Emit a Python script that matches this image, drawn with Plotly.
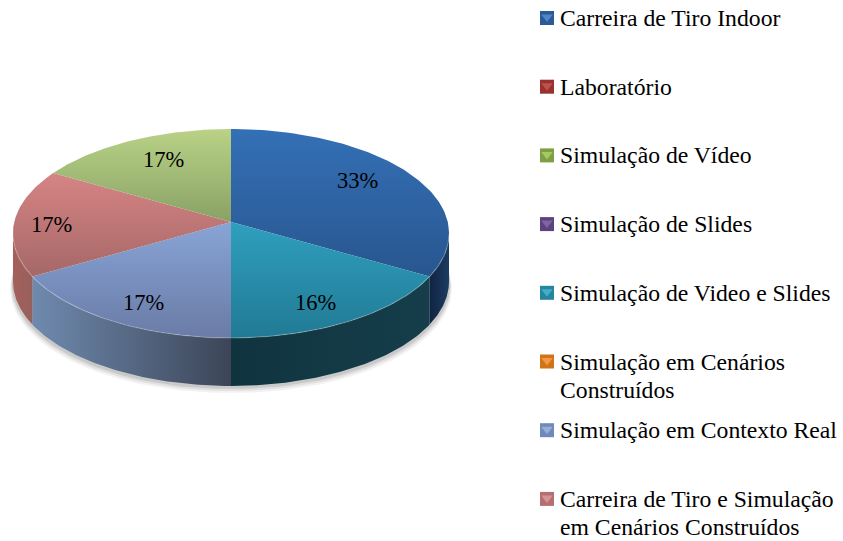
import numpy as np
import plotly.graph_objects as go

LEGEND_NAMES = ["Carreira de Tiro Indoor", "Laboratório", "Simulação de Vídeo", "Simulação de Slides",
                "Simulação de Video e Slides", "Simulação em Cenários<br>Construídos",
                "Simulação em Contexto Real", "Carreira de Tiro e Simulação<br>em Cenários Construídos"]
SHARES = [33.33, 0, 16.67, 0, 16.67, 0, 16.67, 16.66]
SLICE_LABELS = ["33%", "", "17%", "", "16%", "", "17%", "17%"]
SLICE_ORDER = [0, 4, 6, 7, 2]

LEGEND_DARK = ["#2c5a96", "#98322f", "#7f9f45", "#5c4380", "#26859e", "#cf7518", "#7089b8", "#b56f6e"]
LEGEND_LIGHT = ["#4f86c6", "#c0504d", "#a6c862", "#8064a2", "#45adc9", "#f79646", "#94add9", "#d69391"]
TOP_COLORS = {0: ("#3470b6", "#28568f"), 4: ("#2f9fbe", "#217a94"), 6: ("#88a4d6", "#6a7ba6"),
              7: ("#d68484", "#a56867"), 2: ("#b9d286", "#89a266")}
WALL_COLORS = {0: ("#102442", "#1c3c62"), 4: ("#10343f", "#153e4a"), 6: ("#6f8aaf", "#3c4557"),
               7: ("#a55f5c", "#97605c")}
LABEL_R = {0: .70, 4: .78, 6: .78, 7: .83, 2: .70}
LABEL_SHIFT = {0: (0, 7), 4: (-7, -5), 6: (4, -5), 7: (0, -2), 2: (4, 4)}

CX, CY, RX, RY, K, DEPTH = 231, 222, 216.7, 103.2, 0.11, 48


def proj(theta, r=1.0):
    u, v = r * np.sin(theta), -r * np.cos(theta)
    w = 1 - K * v
    return CX + RX * u / w, CY + RY * v / w


fig = go.Figure()

# soft shadow under the pie
ts = np.linspace(np.arcsin(K) + np.pi / 2 - 0.35, 3 * np.pi / 2 - np.arcsin(K) + 0.35, 120)
for off, alpha in [(7, .05), (5, .07), (3, .10)]:
    sx, sy = proj(ts)
    fig.add_trace(go.Scatter(
        x=np.r_[sx + off * np.sign(sx - CX) * .4, sx[::-1]],
        y=np.r_[sy + DEPTH + off, sy[::-1]], mode="lines", fill="toself",
        line=dict(width=0), fillcolor=f"rgba(0,0,0,{alpha})", hoverinfo="skip", showlegend=False))

total = sum(SHARES)
edges = {}
a = 0.0
for i in SLICE_ORDER:
    b = a + SHARES[i] / total * 2 * np.pi
    edges[i] = (a, b)
    a = b

# side walls, only the part that faces the viewer
wall_lo, wall_hi = np.pi / 2 + np.arcsin(K), 3 * np.pi / 2 - np.arcsin(K)
for i in SLICE_ORDER:
    lo, hi = max(edges[i][0], wall_lo), min(edges[i][1], wall_hi)
    if hi <= lo or i not in WALL_COLORS:
        continue
    t = np.linspace(lo, hi, 80)
    x, y = proj(t)
    c0, c1 = WALL_COLORS[i]
    fig.add_trace(go.Scatter(
        x=np.r_[x, x[::-1]], y=np.r_[y, (y + DEPTH)[::-1]], mode="lines", fill="toself",
        line=dict(width=0), hoverinfo="skip", showlegend=False,
        fillgradient=dict(type="horizontal", colorscale=[[0, c0], [1, c1]])))

# top faces
for i in SLICE_ORDER:
    t = np.linspace(*edges[i], 120)
    x, y = proj(t)
    c0, c1 = TOP_COLORS[i]
    fig.add_trace(go.Scatter(
        x=np.r_[CX, x, CX], y=np.r_[CY, y, CY], mode="lines", fill="toself",
        line=dict(width=0), hoverinfo="skip", showlegend=False,
        fillgradient=dict(type="vertical", colorscale=[[0, c1], [1, c0]])))

# bevel highlight on the front rim
t = np.linspace(wall_lo, wall_hi, 200)
x, y = proj(t)
fig.add_trace(go.Scatter(x=x, y=y, mode="lines", line=dict(width=1.2, color="rgba(255,255,255,0.22)"),
                         hoverinfo="skip", showlegend=False))

anns = []
for i in SLICE_ORDER:
    mid = sum(edges[i]) / 2
    x, y = proj(mid, LABEL_R[i])
    dx, dy = LABEL_SHIFT[i]
    anns.append(dict(x=float(x), y=float(y), xshift=dx, yshift=dy, text=SLICE_LABELS[i], showarrow=False,
                     font=dict(family="Liberation Serif", size=22.5, color="#000000")))

# legend
rows = [18 + 68.7 * n for n in range(len(LEGEND_NAMES))]
fig.add_trace(go.Scatter(x=[547] * len(rows), y=rows, mode="markers", hoverinfo="skip", showlegend=False,
                         marker=dict(symbol="square", size=14, color=LEGEND_DARK, line=dict(width=0))))
fig.add_trace(go.Scatter(x=[547] * len(rows), y=[r - 1 for r in rows], mode="markers", hoverinfo="skip",
                         showlegend=False,
                         marker=dict(symbol="triangle-down", size=10, color=LEGEND_LIGHT, line=dict(width=0))))
for name, r in zip(LEGEND_NAMES, rows):
    for n, line in enumerate(name.split("<br>")):
        anns.append(dict(x=560, y=r + 28 * n, text=line, showarrow=False, xanchor="left", yanchor="middle",
                         align="left", xshift=-2.5,
                         font=dict(family="Liberation Serif", size=23.7, color="#000000")))

fig.update_layout(
    width=843, height=541, margin=dict(l=0, r=0, t=0, b=0), autosize=False,
    paper_bgcolor="white", plot_bgcolor="white", annotations=anns,
    xaxis=dict(range=[0, 843], visible=False, fixedrange=True),
    yaxis=dict(range=[541, 0], visible=False, fixedrange=True))
fig.write_html("out.html", config=dict(displayModeBar=False),
               post_script="document.body.style.margin='0';document.body.style.overflow='hidden';")
